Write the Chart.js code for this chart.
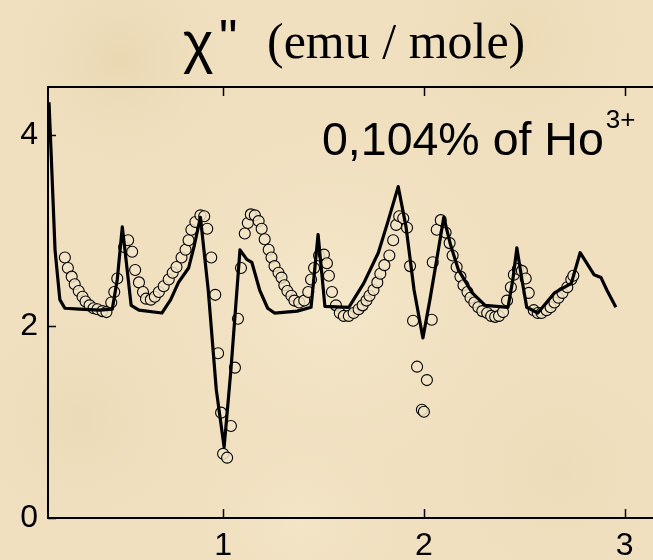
<!DOCTYPE html>
<html>
<head>
<meta charset="utf-8">
<script src="https://cdn.jsdelivr.net/npm/chart.js@4/dist/chart.umd.min.js"></script>
<style>
  html, body { margin: 0; padding: 0; background: #efdfbf; overflow: hidden; }
  #wrap { width: 653px; height: 560px; position: relative; }
</style>
</head>
<body>
<div id="wrap"><canvas id="c" width="653" height="560"></canvas></div>
<script>
// ---- data ----
const xTicks = [1, 2, 3];
const yTicks = [0, 2, 4];

// calculated curve (solid line)
const lineX = [0.133, 0.143, 0.163, 0.187, 0.212, 0.286, 0.384, 0.448, 0.473, 0.498, 0.517, 0.542, 0.581, 0.695, 0.739, 0.778, 0.828, 0.857, 0.887, 0.926, 0.966, 1.005, 1.039, 1.084, 1.118, 1.143, 1.182, 1.222, 1.256, 1.369, 1.438, 1.473, 1.507, 1.626, 1.700, 1.773, 1.823, 1.872, 1.911, 1.951, 1.995, 2.030, 2.059, 2.099, 2.133, 2.172, 2.241, 2.305, 2.419, 2.443, 2.463, 2.488, 2.512, 2.567, 2.650, 2.734, 2.778, 2.847, 2.882, 2.911, 2.956];
const lineY = [4.34, 3.84, 2.80, 2.28, 2.19, 2.18, 2.17, 2.18, 2.49, 3.04, 2.69, 2.22, 2.17, 2.14, 2.28, 2.46, 2.61, 2.85, 3.14, 2.38, 1.34, 0.74, 1.55, 2.80, 2.70, 2.67, 2.38, 2.19, 2.14, 2.16, 2.20, 2.96, 2.21, 2.20, 2.45, 2.77, 3.11, 3.46, 3.04, 2.38, 1.88, 2.28, 2.64, 3.14, 2.85, 2.59, 2.35, 2.22, 2.20, 2.49, 2.82, 2.49, 2.20, 2.14, 2.35, 2.45, 2.77, 2.54, 2.51, 2.38, 2.20];

// measured points (open circles)
const expX = [0.212, 0.227, 0.246, 0.261, 0.281, 0.300, 0.315, 0.335, 0.355, 0.374, 0.399, 0.419, 0.443, 0.458, 0.473, 0.507, 0.527, 0.547, 0.562, 0.581, 0.601, 0.616, 0.640, 0.660, 0.680, 0.704, 0.729, 0.749, 0.768, 0.793, 0.813, 0.828, 0.842, 0.862, 0.887, 0.906, 0.921, 0.941, 0.961, 0.975, 0.990, 1.000, 1.020, 1.039, 1.059, 1.074, 1.089, 1.108, 1.123, 1.138, 1.158, 1.177, 1.192, 1.207, 1.227, 1.241, 1.256, 1.276, 1.291, 1.305, 1.320, 1.340, 1.355, 1.379, 1.404, 1.424, 1.438, 1.453, 1.478, 1.502, 1.517, 1.527, 1.542, 1.562, 1.581, 1.601, 1.626, 1.650, 1.675, 1.695, 1.714, 1.729, 1.749, 1.768, 1.783, 1.803, 1.828, 1.847, 1.862, 1.877, 1.897, 1.916, 1.931, 1.946, 1.966, 1.990, 2.000, 2.015, 2.039, 2.044, 2.064, 2.084, 2.108, 2.128, 2.143, 2.163, 2.182, 2.197, 2.217, 2.232, 2.251, 2.271, 2.291, 2.315, 2.335, 2.355, 2.374, 2.394, 2.414, 2.433, 2.448, 2.468, 2.488, 2.507, 2.522, 2.547, 2.567, 2.586, 2.611, 2.631, 2.650, 2.670, 2.690, 2.714, 2.734, 2.744];
const expY = [2.72, 2.61, 2.52, 2.44, 2.37, 2.31, 2.26, 2.22, 2.19, 2.18, 2.16, 2.15, 2.25, 2.36, 2.50, 2.83, 2.90, 2.78, 2.59, 2.46, 2.36, 2.29, 2.28, 2.31, 2.36, 2.42, 2.49, 2.56, 2.62, 2.72, 2.80, 2.90, 3.01, 3.09, 3.16, 3.15, 3.02, 2.72, 2.33, 1.72, 1.10, 0.67, 0.63, 0.96, 1.57, 2.08, 2.61, 2.97, 3.08, 3.17, 3.16, 3.10, 3.02, 2.91, 2.80, 2.72, 2.63, 2.56, 2.51, 2.43, 2.37, 2.32, 2.27, 2.25, 2.27, 2.36, 2.49, 2.61, 2.74, 2.75, 2.66, 2.53, 2.36, 2.22, 2.14, 2.11, 2.11, 2.14, 2.18, 2.22, 2.27, 2.32, 2.38, 2.46, 2.55, 2.64, 2.74, 2.90, 3.06, 3.15, 3.13, 3.03, 2.63, 2.06, 1.58, 1.13, 1.11, 1.44, 2.07, 2.67, 3.01, 3.11, 2.98, 2.87, 2.74, 2.62, 2.52, 2.43, 2.36, 2.30, 2.25, 2.20, 2.16, 2.14, 2.11, 2.10, 2.11, 2.15, 2.27, 2.41, 2.54, 2.60, 2.58, 2.50, 2.35, 2.17, 2.14, 2.14, 2.17, 2.20, 2.25, 2.30, 2.35, 2.41, 2.49, 2.53];

const xMin = 0.128, xMax = 3.108;
const yMin = 0, yMax = 4.5;

const linePts = lineX.map((x, i) => ({x: x, y: lineY[i]}));
const expPts = expX.map((x, i) => ({x: x, y: expY[i]}));

const SANS = '"Liberation Sans", Arial, sans-serif';
const SERIF = '"Liberation Serif", "Times New Roman", serif';

const bgPlugin = {
  id: 'bg',
  beforeDraw(chart) {
    const ctx = chart.ctx;
    const w = chart.width, h = chart.height;
    ctx.save();
    ctx.fillStyle = '#f0e0c0';
    ctx.fillRect(0, 0, w, h);
    const spots = [
      [120, 60, 140, 'rgba(225,205,160,0.45)'],
      [520, 40, 160, 'rgba(230,210,165,0.40)'],
      [330, 300, 200, 'rgba(250,240,215,0.45)'],
      [80, 420, 150, 'rgba(228,208,165,0.35)'],
      [560, 470, 170, 'rgba(232,212,170,0.35)'],
      [300, 520, 120, 'rgba(248,236,208,0.40)']
    ];
    for (const s of spots) {
      const g = ctx.createRadialGradient(s[0], s[1], 0, s[0], s[1], s[2]);
      g.addColorStop(0, s[3]);
      g.addColorStop(1, 'rgba(240,224,192,0)');
      ctx.fillStyle = g;
      ctx.fillRect(0, 0, w, h);
    }
    ctx.restore();
  }
};

const framePlugin = {
  id: 'frame',
  afterDraw(chart) {
    const ctx = chart.ctx;
    const a = chart.chartArea;
    const xs = chart.scales.x, ys = chart.scales.y;
    ctx.save();
    ctx.strokeStyle = '#000';
    ctx.lineWidth = 2;
    ctx.beginPath();
    ctx.moveTo(chart.width, a.top);
    ctx.lineTo(a.left, a.top);
    ctx.lineTo(a.left, a.bottom);
    ctx.lineTo(chart.width, a.bottom);
    ctx.stroke();
    ctx.lineWidth = 1.5;
    ctx.beginPath();
    for (const t of xTicks) {
      const px = Math.round(xs.getPixelForValue(t)) + 0.5;
      ctx.moveTo(px, a.bottom);
      ctx.lineTo(px, a.bottom - 9);
      ctx.moveTo(px, a.top);
      ctx.lineTo(px, a.top + 9);
    }
    for (const t of yTicks) {
      const py = Math.round(ys.getPixelForValue(t)) + 0.5;
      ctx.moveTo(a.left, py);
      ctx.lineTo(a.left + 8, py);
    }
    ctx.stroke();

    // title
    ctx.fillStyle = '#000';
    ctx.textBaseline = 'alphabetic';
    ctx.textAlign = 'left';
    ctx.font = '58px ' + SANS;
    ctx.fillText('\u03C7', 183, 62);
    ctx.font = '52px ' + SANS;
    ctx.fillText('"', 219, 56);
    ctx.font = '50px ' + SERIF;
    ctx.fillText('(emu / mole)', 267, 58);

    // annotation
    ctx.font = '46.5px ' + SANS;
    ctx.fillText('0,104% of Ho', 322, 155);
    const w = ctx.measureText('0,104% of Ho').width;
    ctx.font = '26px ' + SANS;
    ctx.fillText('3+', 322 + w + 2, 128);
    ctx.restore();
  }
};

new Chart(document.getElementById('c'), {
  type: 'scatter',
  data: {
    datasets: [
      {
        type: 'line',
        label: 'calc',
        data: linePts,
        borderColor: '#000',
        borderWidth: 3.2,
        pointRadius: 0,
        fill: false,
        tension: 0,
        borderJoinStyle: 'round',
        order: 0
      },
      {
        type: 'scatter',
        label: 'exp',
        data: expPts,
        pointRadius: 5.5,
        pointBorderWidth: 1.1,
        pointBorderColor: '#000',
        pointBackgroundColor: 'rgba(242,228,198,0.85)',
        order: 1
      }
    ]
  },
  options: {
    responsive: false,
    animation: false,
    devicePixelRatio: 1,
    layout: { padding: { top: 87, left: 0, right: 0, bottom: 0 } },
    plugins: {
      legend: { display: false },
      tooltip: { enabled: false },
      title: { display: false }
    },
    scales: {
      x: {
        type: 'linear',
        min: xMin,
        max: xMax,
        afterBuildTicks(s) { s.ticks = xTicks.map(v => ({value: v})); },
        afterFit(s) { s.height = 42; },
        grid: { display: false, drawTicks: false },
        border: { display: false },
        ticks: {
          color: '#000',
          font: { family: SANS, size: 32 },
          padding: 9,
          maxRotation: 0,
          callback: v => String(v)
        }
      },
      y: {
        type: 'linear',
        min: yMin,
        max: yMax,
        afterBuildTicks(s) { s.ticks = yTicks.map(v => ({value: v})); },
        afterFit(s) { s.width = 48; },
        grid: { display: false, drawTicks: false },
        border: { display: false },
        ticks: {
          color: '#000',
          font: { family: SANS, size: 32 },
          padding: 10,
          callback: v => String(v)
        }
      }
    }
  },
  plugins: [bgPlugin, framePlugin]
});
</script>
</body>
</html>
